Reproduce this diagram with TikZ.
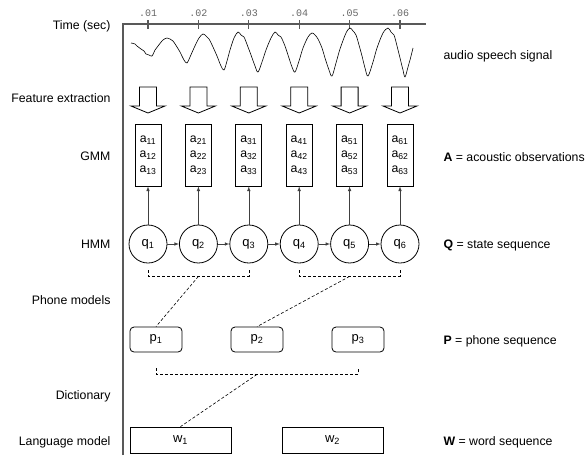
\documentclass[tikz,border=0pt]{standalone}
\usepackage{fontspec}
\setmainfont{Liberation Sans}
\setmonofont{Liberation Mono}
\usetikzlibrary{arrows.meta,positioning}

\begin{document}
\begin{tikzpicture}[x=1pt, y=-1pt, >=latex, node distance=50.4pt, on grid,
  font=\fontsize{12.3}{14}\selectfont,
  tag/.style={anchor=east},
  legend/.style={anchor=west},
  axis/.style={draw=black!65, line width=1.1pt},
  ticklabel/.style={font=\fontsize{10}{10}\selectfont\ttfamily, text=black!60},
  obs/.style={draw, line width=0.8pt, minimum width=26pt, minimum height=62pt,
    inner sep=0pt, align=center, font=\fontsize{12.3}{15}\selectfont},
  state/.style={draw, circle, line width=0.8pt, minimum size=38pt, inner sep=0pt,
    font=\fontsize{13}{15}\selectfont},
  phone/.style={draw, rounded corners=4pt, line width=0.8pt, minimum width=52pt, minimum height=25pt,
    font=\fontsize{13}{15}\selectfont},
  word/.style={draw, line width=0.8pt, minimum width=101pt, minimum height=26pt,
    font=\fontsize{13}{15}\selectfont},
  feature/.style={draw, line width=0.8pt},
  link/.style={draw=black!75, line width=0.6pt},
  group/.style={dash pattern=on 3pt off 2pt, line width=0.6pt}]
\useasboundingbox (0,0) rectangle (585,455);

% row labels
\node[tag] (ltime) at (114,26) {Time (sec)};
\node[tag] (lfeat) at (114,98) {Feature extraction};
\node[tag] (lgmm) at (114,156) {GMM};
\node[tag] (lhmm) at (114,244) {HMM};
\node[tag] (lphone) at (114,300) {Phone models};
\node[tag] (ldict) at (114,396) {Dictionary};
\node[tag] (llang) at (114,442) {Language model};

\node[legend] (rsig) at (440,56) {audio speech signal};
\node[legend] (robs) at (440,157) {\textbf{A} = acoustic observations};
\node[legend] (rstate) at (440,245) {\textbf{Q} = state sequence};
\node[legend] (rphone) at (440,341) {\textbf{P} = phone sequence};
\node[legend] (rword) at (440,442) {\textbf{W} = word sequence};

\draw[axis] (123,455) |- (426,24);

% HMM states and GMM observations
\node[state] (q1) at (148,244) {q\textsubscript{1}};
\foreach \i [remember=\i as \j (initially 1)] in {2,...,6}
  \node[state, right=of q\j] (q\i) {q\textsubscript{\i}};
\foreach \i [count=\k from 2] in {1,...,5}
  \draw[link, ->] (q\i) -- (q\k);
\foreach \i in {1,...,6} {
  \node[obs, above=89pt of q\i] (a\i) {a\textsubscript{\i1}\\a\textsubscript{\i2}\\a\textsubscript{\i3}};
  \draw[link, ->] (q\i) -- (a\i);
  \draw[feature, shift={(a\i |- 0,0)}] (-8.5,87) -- (8.5,87) -- (8.5,106) -- (17,106)
    -- (0,113) -- (-17,106) -- (-8.5,106) -- cycle;
  \draw[axis] (a\i |- 0,20) -- (a\i |- 0,29);
  \node[ticklabel] (t\i) at (a\i |- 0,13) {.0\i};
}

% speech waveform
\draw[line width=0.6pt] plot[smooth, tension=0.55] coordinates {
  (131,43) (135,44) (137,46) (141,49) (144,51) (146,54) (149,55) (152,56) (155,50) (158,46)
  (163,40) (167,38) (170,39) (173,41) (177,47) (180,52) (184,60) (187,63) (190,57) (194,48)
  (199,38) (203,34) (206,36) (209,39) (213,47) (217,56) (221,66) (224,70) (227,61) (230,50)
  (234,38) (238,32) (241,35) (244,37) (248,47) (251,55) (255,66) (258,72) (262,62) (266,50)
  (271,38) (275,32) (278,35) (281,37) (285,46) (288,55) (292,67) (295,72) (299,61) (303,48)
  (308,37) (312,33) (315,35) (318,39) (322,48) (325,58) (329,70) (332,76) (336,63) (340,49)
  (346,33) (350,28) (353,31) (356,35) (359,45) (362,56) (365,68) (368,76) (373,62) (377,48)
  (383,33) (388,28) (391,32) (394,35) (397,46) (400,58) (403,70) (405,77) (408,67) (410,60) (413,48)};

% phone and word models
\node[phone] (p1) at (156,339.5) {p\textsubscript{1}};
\node[phone, right=101pt of p1] (p2) {p\textsubscript{2}};
\node[phone, right=101pt of p2] (p3) {p\textsubscript{3}};
\node[word] (w1) at (180.5,440) {w\textsubscript{1}};
\node[word, right=152pt of w1] (w2) {w\textsubscript{2}};

\draw[group] ([yshift=-7pt]q1.south) |- ([yshift=-13pt]q3.south) -- ([yshift=-7pt]q3.south);
\draw[group] ([yshift=-7pt]q4.south) |- ([yshift=-13pt]q6.south) -- ([yshift=-7pt]q6.south);
\draw[group] ([yshift=-16pt]p1.south) |- ([yshift=-22pt]p3.south) -- ([yshift=-16pt]p3.south);
\coordinate (g1) at ([yshift=-13pt]q2.south);
\coordinate (g2) at ([yshift=-13pt]q5.south);
\coordinate (g3) at ([yshift=-22pt]p2.south);
\draw[group] (g1) -- (p1.north);
\draw[group] (g2) -- (p2.north);
\draw[group] (g3) -- (w1.north);
\end{tikzpicture}
\end{document}
